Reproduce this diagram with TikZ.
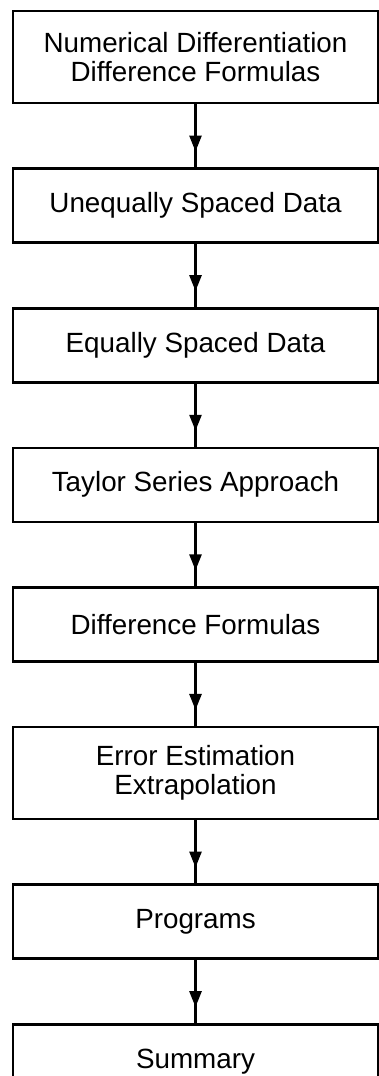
\documentclass[tikz,border=0pt]{standalone}
\usepackage{fontspec}
\setmainfont{Liberation Sans}
\usetikzlibrary{arrows.meta,positioning,decorations.markings}

\begin{document}
\begin{tikzpicture}[
  font=\fontsize{13.9}{14.5}\selectfont,
  block/.style={
    rectangle, draw, line width=1.3pt,
    minimum width=182.5pt, minimum height=37pt,
    align=center, inner sep=2pt
  },
  tall/.style={minimum height=46pt},
  flow/.style={
    line width=1.3pt,
    postaction={decorate},
    decoration={markings,
      mark=at position 0.75 with {\arrow{Triangle[length=8pt,width=6pt]}}}
  },
  node distance=31.5pt
]
\useasboundingbox (0,0) rectangle (189.5pt,-538pt);
% Stufe 1
\node[block, tall] (NDF) at (97.75pt,-28.5pt) {Numerical Differentiation\\Difference Formulas};
% Stufe 2 bis 5
\node[block, below=of NDF] (USD) {Unequally Spaced Data};
\node[block, below=of USD] (ESD) {Equally Spaced Data};
\node[block, below=of ESD] (TSA) {Taylor Series Approach};
\node[block, below=of TSA] (DF)  {Difference Formulas};
% Stufe 6
\node[block, tall, below=of DF] (EEE) {Error Estimation\\Extrapolation};
% Stufe 7 und 8
\node[block, below=of EEE] (PRG) {Programs};
\node[block, below=of PRG] (SUM) {Summary};

% Pfeile
\draw[flow] (NDF) -- (USD);
\draw[flow] (USD) -- (ESD);
\draw[flow] (ESD) -- (TSA);
\draw[flow] (TSA) -- (DF);
\draw[flow] (DF)  -- (EEE);
\draw[flow] (EEE) -- (PRG);
\draw[flow] (PRG) -- (SUM);
\end{tikzpicture}
\end{document}
